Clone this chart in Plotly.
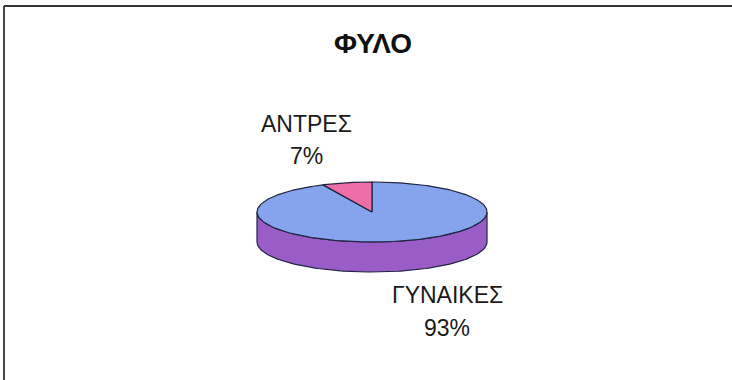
import numpy as np
import plotly.graph_objects as go

# Sex distribution
categories = ["ΓΥΝΑΙΚΕΣ", "ΑΝΤΡΕΣ"]
values = [93, 7]
top_colors = ["#86a3ee", "#ee6fa6"]
side_colors = ["#9a5cc6", "#b04a82"]
title_text = "ΦΥΛΟ"

W, H = 732, 380
# pie geometry in pixel units (y grows downward)
cx, cy = 372, 212
rx, ry = 115, 30
depth = 30
outline = "#1f2440"

total = float(sum(values))
fracs = [v / total for v in values]
starts = np.cumsum([0.0] + fracs[:-1]) * 360.0
ends = np.cumsum(fracs) * 360.0


def ellipse_pt(theta_deg, dy=0.0):
    t = np.radians(theta_deg)
    return cx + rx * np.sin(t), cy - ry * np.cos(t) + dy


fig = go.Figure()

# side wall: only the front half (90..270 deg, clockwise from 12 o'clock) is visible
for s, e, col in zip(starts, ends, side_colors):
    a0, a1 = max(s, 90.0), min(e, 270.0)
    if a1 <= a0:
        continue
    th = np.linspace(a0, a1, 120)
    xt, yt = ellipse_pt(th)
    xb, yb = ellipse_pt(th[::-1], depth)
    xs = np.concatenate([xt, xb, xt[:1]])
    ys = np.concatenate([yt, yb, yt[:1]])
    fig.add_trace(go.Scatter(x=xs, y=ys, mode="lines", fill="toself",
                             fillcolor=col, line=dict(color=outline, width=1.2),
                             hoverinfo="skip", showlegend=False))

# top faces
for s, e, col in zip(starts, ends, top_colors):
    th = np.linspace(s, e, 240)
    xa, ya = ellipse_pt(th)
    xs = np.concatenate([[cx], xa, [cx]])
    ys = np.concatenate([[cy], ya, [cy]])
    fig.add_trace(go.Scatter(x=xs, y=ys, mode="lines", fill="toself",
                             fillcolor=col, line=dict(color=outline, width=1.2),
                             hoverinfo="skip", showlegend=False))

# data labels: category name above percentage
label_pos = {"ΓΥΝΑΙΚΕΣ": (447, 295, 328), "ΑΝΤΡΕΣ": (306, 124, 156)}
lab_font = dict(family="Liberation Sans, Arial, sans-serif", size=23, color="#1a1a1a")
for cat, val in zip(categories, values):
    lx, ly1, ly2 = label_pos[cat]
    pct = round(100.0 * val / total)
    fig.add_annotation(x=lx, y=ly1, text=cat, showarrow=False, font=lab_font,
                       xref="x", yref="y", xanchor="center", yanchor="middle")
    fig.add_annotation(x=lx, y=ly2, text=f"{pct}%", showarrow=False, font=lab_font,
                       xref="x", yref="y", xanchor="center", yanchor="middle")

# chart title
fig.add_annotation(x=373, y=43, text=f"<b>{title_text}</b>", showarrow=False,
                   font=dict(family="Liberation Sans, Arial, sans-serif", size=28, color="#111111"),
                   xref="x", yref="y", xanchor="center", yanchor="middle")

# chart frame (top and left edges)
frame = dict(color="#333333", width=1.8)
fig.add_shape(type="line", xref="paper", yref="paper", x0=4 / W, x1=1.0,
              y0=1 - 6 / H, y1=1 - 6 / H, line=frame)
fig.add_shape(type="line", xref="paper", yref="paper", x0=4 / W, x1=4 / W,
              y0=0.0, y1=1 - 6 / H, line=frame)

fig.update_layout(
    width=W, height=H,
    margin=dict(l=0, r=0, t=0, b=0),
    paper_bgcolor="white", plot_bgcolor="white",
    xaxis=dict(range=[0, W], visible=False, fixedrange=True),
    yaxis=dict(range=[H, 0], visible=False, fixedrange=True),
    showlegend=False,
)

fig.write_html("out.html")
